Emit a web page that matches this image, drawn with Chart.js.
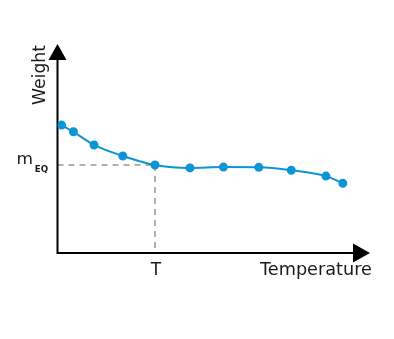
<!DOCTYPE html>
<html>
<head>
<meta charset="utf-8">
<script src="https://cdn.jsdelivr.net/npm/chart.js@4"></script>
<style>
  html, body { margin: 0; padding: 0; background: #fff; }
  #wrap { width: 394px; height: 339px; }
</style>
</head>
<body>
<div id="wrap"><canvas id="weightChart" width="394" height="339"></canvas></div>
<script>
// Data (arbitrary units)
const temperature = [1.3, 5.1, 11.7, 20.9, 31.2, 42.4, 53.1, 64.4, 74.8, 85.9, 91.3];
const weight = [61.2, 58.0, 51.7, 46.4, 42.1, 40.7, 41.1, 41.0, 39.6, 36.8, 33.4];
const tValue = 31.2;
const mEqValue = 42.1;
const xTitle = 'Temperature';
const yTitle = 'Weight';
const tLabel = 'T';

const FONT = '"DejaVu Sans", sans-serif';

// draw text stretched to a given width (the original font is wide)
function wideText(ctx, text, x, y, width) {
  const w = ctx.measureText(text).width;
  ctx.save();
  ctx.translate(x, y);
  ctx.scale(width / w, 1);
  ctx.fillText(text, 0, 0);
  ctx.restore();
}

// Axes with arrow heads, dashed guides and labels
const sketchPlugin = {
  id: 'sketch',
  beforeDatasetsDraw(chart) {
    const ctx = chart.ctx;
    const xs = chart.scales.x, ys = chart.scales.y;
    const area = chart.chartArea;
    const ox = area.left, oy = area.bottom;
    const px = xs.getPixelForValue(tValue);
    const py = ys.getPixelForValue(mEqValue);

    ctx.save();
    // dashed guides
    ctx.strokeStyle = '#b0b0b0';
    ctx.lineWidth = 2;
    ctx.setLineDash([6, 5]);
    ctx.beginPath();
    ctx.moveTo(ox, py);
    ctx.lineTo(px, py);
    ctx.moveTo(px, py);
    ctx.lineTo(px, oy);
    ctx.stroke();
    ctx.setLineDash([]);

    // axes
    ctx.strokeStyle = '#000';
    ctx.lineWidth = 2;
    ctx.beginPath();
    ctx.moveTo(ox, area.top + 10);
    ctx.lineTo(ox, oy);
    ctx.lineTo(area.right - 10, oy);
    ctx.stroke();

    // arrow heads
    ctx.fillStyle = '#000';
    ctx.beginPath();
    ctx.moveTo(ox, area.top);
    ctx.lineTo(ox - 9, area.top + 16);
    ctx.lineTo(ox + 9, area.top + 16);
    ctx.closePath();
    ctx.fill();
    ctx.beginPath();
    ctx.moveTo(area.right, oy);
    ctx.lineTo(area.right - 17, oy - 9.5);
    ctx.lineTo(area.right - 17, oy + 9.5);
    ctx.closePath();
    ctx.fill();

    // labels
    ctx.fillStyle = '#1a1a1a';
    ctx.font = '17px ' + FONT;
    ctx.textBaseline = 'alphabetic';
    ctx.textAlign = 'center';
    ctx.fillText(tLabel, px + 1, oy + 22);
    ctx.textAlign = 'left';
    wideText(ctx, xTitle, 260, oy + 22, 112);

    // m_EQ
    ctx.font = '16.5px ' + FONT;
    wideText(ctx, 'm', 16.5, py - 1, 16.5);
    ctx.font = 'bold 9px ' + FONT;
    wideText(ctx, 'EQ', 34.8, py + 7, 13.3);

    // rotated y title
    ctx.translate(ox - 13, area.top + 61);
    ctx.rotate(-Math.PI / 2);
    ctx.font = '17px ' + FONT;
    wideText(ctx, yTitle, 0, 0, 60);
    ctx.restore();
  }
};

new Chart(document.getElementById('weightChart'), {
  type: 'line',
  data: {
    datasets: [{
      data: temperature.map((t, i) => ({ x: t, y: weight[i] })),
      borderColor: '#0b95d5',
      backgroundColor: '#0b95d5',
      borderWidth: 2,
      pointRadius: 3.5,
      pointHoverRadius: 3.5,
      cubicInterpolationMode: 'monotone',
      fill: false
    }]
  },
  options: {
    responsive: false,
    animation: false,
    layout: { padding: { left: 57.5, top: 44, right: 24, bottom: 86 } },
    plugins: { legend: { display: false }, tooltip: { enabled: false } },
    scales: {
      x: { type: 'linear', min: 0, max: 100, display: false },
      y: { min: 0, max: 100, display: false }
    }
  },
  plugins: [sketchPlugin]
});
</script>
</body>
</html>
